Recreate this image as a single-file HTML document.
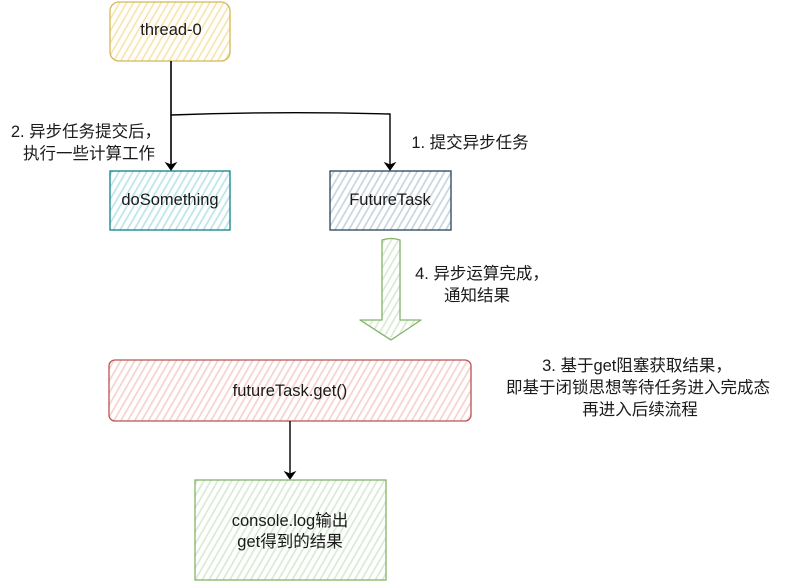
<!DOCTYPE html>
<html><head><meta charset="utf-8">
<style>
html,body{margin:0;padding:0;background:#fff;}
svg{display:block;}
text{font-family:"Liberation Sans","Noto Sans CJK SC",sans-serif;font-size:16.5px;fill:#1a1a1a;}
</style></head>
<body>
<svg width="787" height="581" viewBox="0 0 787 581" xmlns="http://www.w3.org/2000/svg">
<defs>
<pattern id="hy" width="6" height="6" patternUnits="userSpaceOnUse" patternTransform="rotate(30)"><line x1="3" y1="0" x2="3" y2="6" stroke="#f6e4a8" stroke-width="1.6"/></pattern>
<pattern id="ht" width="6" height="6" patternUnits="userSpaceOnUse" patternTransform="rotate(30)"><line x1="3" y1="0" x2="3" y2="6" stroke="#b7e4e7" stroke-width="1.6"/></pattern>
<pattern id="hs" width="6" height="6" patternUnits="userSpaceOnUse" patternTransform="rotate(30)"><line x1="3" y1="0" x2="3" y2="6" stroke="#c6d1da" stroke-width="1.6"/></pattern>
<pattern id="hr" width="6" height="6" patternUnits="userSpaceOnUse" patternTransform="rotate(30)"><line x1="3" y1="0" x2="3" y2="6" stroke="#f5cfcd" stroke-width="1.6"/></pattern>
<pattern id="hg" width="6" height="6" patternUnits="userSpaceOnUse" patternTransform="rotate(30)"><line x1="3" y1="0" x2="3" y2="6" stroke="#d7e9d3" stroke-width="1.6"/></pattern>
</defs>

<!-- thread-0 -->
<rect x="110" y="2" width="120" height="59" rx="9" fill="url(#hy)" stroke="#d6b656" stroke-width="1.3"/>
<text x="171" y="35" text-anchor="middle">thread-0</text>

<!-- doSomething -->
<rect x="110" y="171" width="120" height="59" fill="url(#ht)" stroke="#0e8088" stroke-width="1.3"/>
<text x="170" y="205" text-anchor="middle">doSomething</text>

<!-- FutureTask -->
<rect x="330" y="171" width="121" height="59" fill="url(#hs)" stroke="#23445d" stroke-width="1.3"/>
<text x="390" y="205" text-anchor="middle">FutureTask</text>

<!-- connectors top -->
<path d="M171,61 L171,166" stroke="#000" stroke-width="1.6" fill="none"/>
<path d="M171,115 Q280,111 390,114 L390,166" stroke="#000" stroke-width="1.4" fill="none"/>
<path d="M166,163 L171,170 L176,163 L171,165 Z" fill="#000" stroke="#000" stroke-width="1"/>
<path d="M385,163 L390,170 L395,163 L390,165 Z" fill="#000" stroke="#000" stroke-width="1"/>

<!-- labels -->
<text x="86" y="137" text-anchor="middle">2. 异步任务提交后，</text>
<text x="89" y="159" text-anchor="middle">执行一些计算工作</text>
<text x="470" y="148" text-anchor="middle">1. 提交异步任务</text>
<text x="482" y="279" text-anchor="middle">4. 异步运算完成，</text>
<text x="477" y="301" text-anchor="middle">通知结果</text>
<text x="637" y="371" text-anchor="middle">3. 基于get阻塞获取结果，</text>
<text x="638" y="393" text-anchor="middle">即基于闭锁思想等待任务进入完成态</text>
<text x="640" y="415" text-anchor="middle">再进入后续流程</text>

<!-- green block arrow -->
<path d="M382,240 Q391,237 400,240 L400,320 L421,320 L391,340 L360,320 L382,320 Z" fill="url(#hg)" stroke="#82b366" stroke-width="1.3" stroke-linejoin="round"/>

<!-- futureTask.get -->
<rect x="109" y="360" width="362" height="61" rx="6" fill="url(#hr)" stroke="#b85450" stroke-width="1.3"/>
<text x="290" y="396" text-anchor="middle">futureTask.get()</text>

<!-- connector -->
<path d="M290,421 L290,475" stroke="#000" stroke-width="1.4" fill="none"/>
<path d="M285,472 L290,479 L295,472 L290,474 Z" fill="#000" stroke="#000" stroke-width="1"/>

<!-- console.log -->
<rect x="195" y="480" width="191" height="100" fill="url(#hg)" stroke="#82b366" stroke-width="1.3"/>
<text x="290" y="526" text-anchor="middle">console.log输出</text>
<text x="290" y="547" text-anchor="middle">get得到的结果</text>
</svg>
</body></html>
